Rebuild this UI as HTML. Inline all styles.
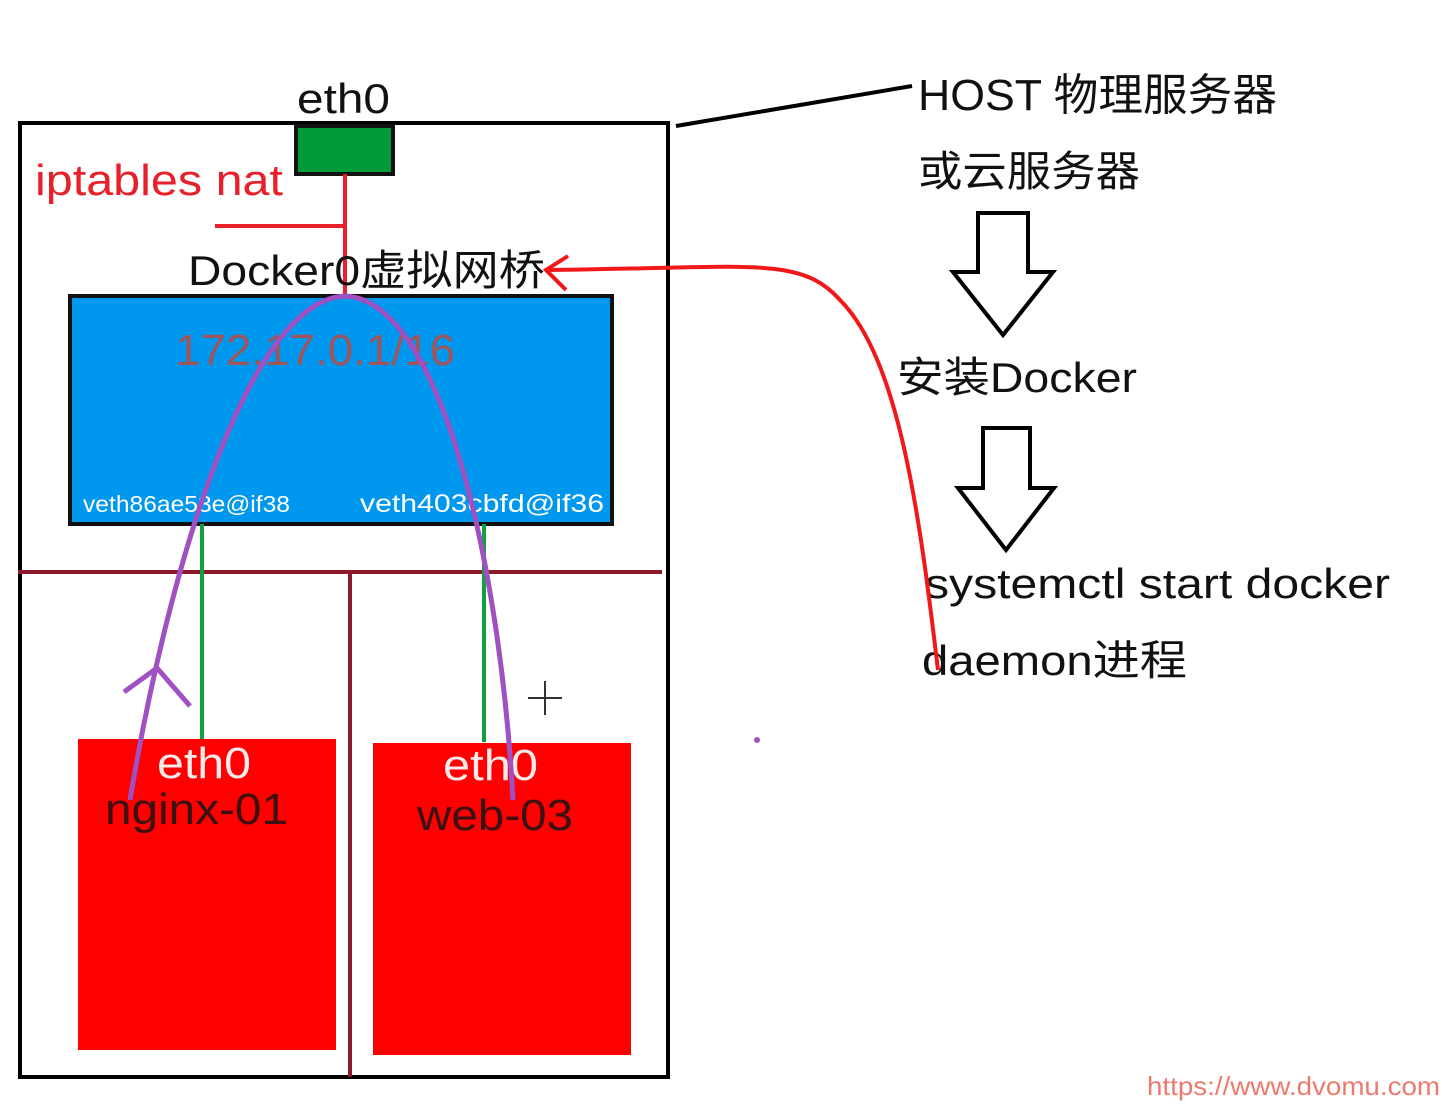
<!DOCTYPE html>
<html><head><meta charset="utf-8"><style>
html,body{margin:0;padding:0;background:#fff;}
svg{display:block;}
text{font-family:"Liberation Sans","Noto Sans CJK SC",sans-serif;}
</style></head><body>
<svg width="1442" height="1104" viewBox="0 0 1442 1104" xmlns="http://www.w3.org/2000/svg">
<rect x="20" y="123" width="648" height="954" fill="none" stroke="#000" stroke-width="4"/>
<rect x="296" y="126" width="97" height="48" fill="#009a3a" stroke="#111" stroke-width="4"/>
<text x="297" y="113" font-size="42" fill="#111" textLength="93" lengthAdjust="spacingAndGlyphs">eth0</text>
<text x="35" y="195" font-size="44" fill="#e8202a" textLength="248" lengthAdjust="spacingAndGlyphs">iptables nat</text>
<line x1="345" y1="174" x2="345" y2="298" stroke="#e8202a" stroke-width="4"/>
<line x1="215" y1="226" x2="345" y2="226" stroke="#e8202a" stroke-width="4"/>
<rect x="70" y="296" width="542" height="228" fill="#0098ee" stroke="#111" stroke-width="4"/>
<text x="188" y="285" font-size="42" fill="#111" textLength="357" lengthAdjust="spacingAndGlyphs">Docker0虚拟网桥</text>
<text x="175" y="365" font-size="44" fill="#a0555a" textLength="280" lengthAdjust="spacingAndGlyphs">172.17.0.1/16</text>
<text x="83" y="512" font-size="23" fill="#fff" textLength="207" lengthAdjust="spacingAndGlyphs">veth86ae53e@if38</text>
<text x="360" y="512" font-size="25" fill="#fff" textLength="244" lengthAdjust="spacingAndGlyphs">veth403cbfd@if36</text>
<line x1="18" y1="572" x2="662" y2="572" stroke="#8b1a2a" stroke-width="4"/>
<line x1="350" y1="572" x2="350" y2="1077" stroke="#8b1a2a" stroke-width="4"/>
<line x1="202" y1="524" x2="202" y2="740" stroke="#10a040" stroke-width="4"/>
<line x1="484" y1="524" x2="484" y2="742" stroke="#10a040" stroke-width="4"/>
<rect x="78" y="739" width="258" height="311" fill="#fe0000"/>
<rect x="373" y="743" width="258" height="312" fill="#fe0000"/>
<text x="157" y="778" font-size="44" fill="#fbeaea" textLength="94" lengthAdjust="spacingAndGlyphs">eth0</text>
<text x="105" y="824" font-size="44" fill="#3a1010" textLength="183" lengthAdjust="spacingAndGlyphs">nginx-01</text>
<text x="443" y="780" font-size="44" fill="#fbeaea" textLength="95" lengthAdjust="spacingAndGlyphs">eth0</text>
<text x="417" y="830" font-size="44" fill="#3a1010" textLength="156" lengthAdjust="spacingAndGlyphs">web-03</text>
<path d="M130,800 C170,560 250,300 345,296 C440,300 500,560 513,800" fill="none" stroke="#a050c0" stroke-width="5"/>
<path d="M124,692 L157,668 L190,706" fill="none" stroke="#a050c0" stroke-width="5"/>
<line x1="676" y1="126" x2="912" y2="86" stroke="#000" stroke-width="4"/>
<text x="918" y="110" font-size="44" fill="#111" textLength="359" lengthAdjust="spacingAndGlyphs">HOST 物理服务器</text>
<text x="918" y="186" font-size="42" fill="#111" textLength="222" lengthAdjust="spacingAndGlyphs">或云服务器</text>
<path d="M978,213 L1028,213 L1028,272 L1053,272 L1003,335 L953,272 L978,272 Z" fill="#fff" stroke="#000" stroke-width="4"/>
<path d="M983,428 L1030,428 L1030,488 L1054,488 L1006,550 L958,488 L983,488 Z" fill="#fff" stroke="#000" stroke-width="4"/>
<text x="897" y="392" font-size="42" fill="#111" textLength="240" lengthAdjust="spacingAndGlyphs">安装Docker</text>
<text x="925" y="598" font-size="42" fill="#111" textLength="465" lengthAdjust="spacingAndGlyphs">systemctl start docker</text>
<text x="922" y="675" font-size="42" fill="#111" textLength="265" lengthAdjust="spacingAndGlyphs">daemon进程</text>
<path d="M938,670 C920,520 900,360 840,300 C800,255 750,268 548,270" fill="none" stroke="#f01818" stroke-width="4"/>
<path d="M568,256 L546,270 L566,290" fill="none" stroke="#f01818" stroke-width="4"/>
<g stroke="#333" stroke-width="2"><line x1="528" y1="698" x2="562" y2="698"/><line x1="545" y1="681" x2="545" y2="715"/></g>
<circle cx="757" cy="740" r="3" fill="#a050c0"/>
<text x="1147" y="1095" font-size="26" fill="#ec7b6e" textLength="293" lengthAdjust="spacingAndGlyphs">https://www.dvomu.com</text>
</svg>
</body></html>
